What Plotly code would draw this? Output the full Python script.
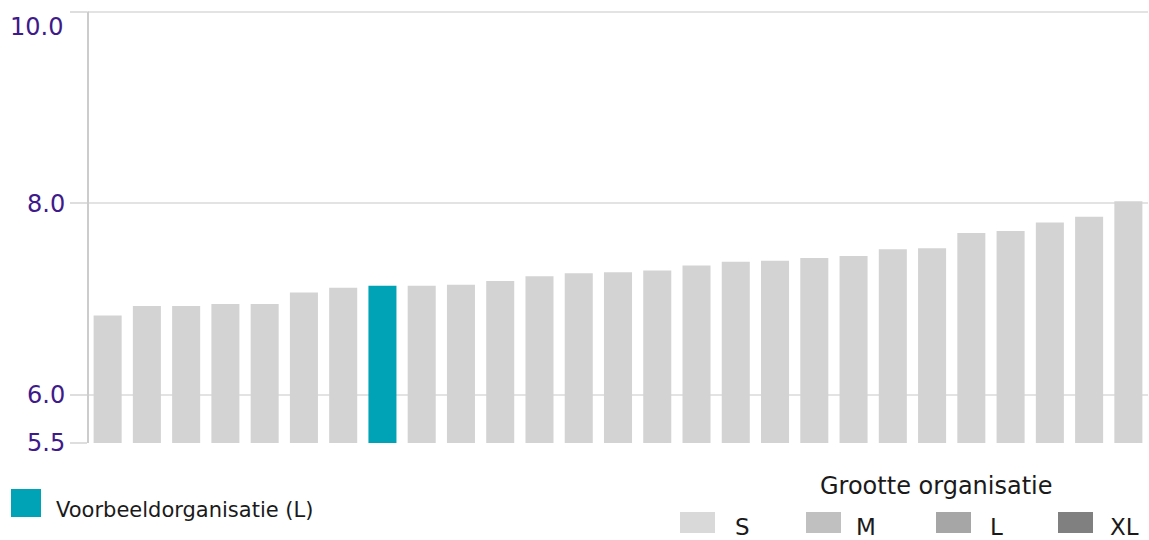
import plotly.graph_objects as go

# Scores per organisation, sorted ascending
organisaties = [str(i) for i in range(1, 28)]
scores = [6.83, 6.93, 6.93, 6.95, 6.95, 7.07, 7.12, 7.14, 7.14, 7.15,
          7.19, 7.24, 7.27, 7.28, 7.30, 7.35, 7.39, 7.40, 7.43, 7.45,
          7.52, 7.53, 7.69, 7.71, 7.80, 7.86, 8.02]
voorbeeld_index = 7
y_ticks = [5.5, 6.0, 8.0, 10.0]
y_tick_labels = ["5.5", "6.0", "8.0", "10.0"]
y_min, y_max = 5.5, 10.0

legend_title = "Grootte organisatie"
grootte_labels = ["S", "M", "L", "XL"]
grootte_colors = ["#d9d9d9", "#c0c0c0", "#a6a6a6", "#808080"]
voorbeeld_label = "Voorbeeldorganisatie (L)"

BAR_GREY = "#d3d3d3"
TEAL = "#00a2b5"
TICK_PURPLE = "#3f1a8a"
FONT = "DejaVu Sans"

colors = [TEAL if i == voorbeeld_index else BAR_GREY for i in range(len(scores))]

# bars start at the axis floor, so heights are relative to it
fig = go.Figure(go.Bar(
    x=list(range(len(organisaties))),
    y=[s - y_min for s in scores],
    base=y_min,
    marker=dict(color=colors, line=dict(width=0)),
    hovertext=organisaties,
))

# plot area: top edge a little above the 10.0 line, bottom at 5.5
TOP, BOTTOM = 4, 443
PH = BOTTOM - TOP
px_per_unit = (BOTTOM - 11.5) / (y_max - y_min)
y_top = y_min + PH / px_per_unit

fig.update_layout(
    width=1149, height=540,
    margin=dict(l=88, r=1, t=TOP, b=540 - BOTTOM),
    paper_bgcolor="white", plot_bgcolor="white",
    bargap=0.286,
    showlegend=False,
    font=dict(family=FONT, color="#222222"),
)
fig.update_xaxes(
    range=[-0.5, len(scores) - 0.5],
    showticklabels=False, showgrid=False, zeroline=False, showline=False,
)
# the top label sits just below its grid line so it stays inside the page
axis_text = [t if v != y_max else "" for v, t in zip(y_ticks, y_tick_labels)]
fig.update_yaxes(
    range=[y_min, y_top],
    tickvals=y_ticks, ticktext=axis_text,
    tickfont=dict(family=FONT, size=24, color=TICK_PURPLE),
    ticks="outside", ticklen=17, tickwidth=2, tickcolor="#dedede",
    showgrid=True, gridcolor="#e3e3e3", gridwidth=2,
    zeroline=False,
    showline=False,
)

shapes = []
annotations = []
PW = 1060

# Vertical axis line from 5.5 up to 10.0
shapes.append(dict(
    type="line", xref="paper", yref="y",
    x0=0, x1=0, y0=y_min, y1=y_max,
    line=dict(color="#cccccc", width=2),
))

def py(pix):
    """Paper y-coordinate for a pixel row."""
    return (BOTTOM - pix) / PH

top_label = y_tick_labels[y_ticks.index(y_max)]
annotations.append(dict(
    xref="paper", yref="paper", x=-23 / PW, y=py(27),
    text=top_label, showarrow=False, xanchor="right", yanchor="middle",
    font=dict(family=FONT, size=24, color=TICK_PURPLE),
))

# Highlighted organisation key
shapes.append(dict(
    type="rect", xref="paper", yref="paper",
    x0=-77 / PW, x1=-47 / PW, y0=py(517), y1=py(489),
    fillcolor=TEAL, line=dict(width=0),
))
annotations.append(dict(
    xref="paper", yref="paper", x=-34 / PW, y=py(510),
    text=voorbeeld_label, showarrow=False, xanchor="left", yanchor="middle",
    font=dict(family=FONT, size=21, color="#1a1a1a"),
))

# Size-category key
annotations.append(dict(
    xref="paper", yref="paper", x=(936 - 88) / PW, y=py(486),
    text=legend_title, showarrow=False, xanchor="center", yanchor="middle",
    font=dict(family=FONT, size=24, color="#1a1a1a"),
))
swatch_x = [680, 806, 936, 1058]
label_x = [733, 854, 988, 1108]
for sx, lx, lab, col in zip(swatch_x, label_x, grootte_labels, grootte_colors):
    shapes.append(dict(
        type="rect", xref="paper", yref="paper",
        x0=(sx - 88) / PW, x1=(sx + 35 - 88) / PW, y0=py(533), y1=py(512),
        fillcolor=col, line=dict(width=0),
    ))
    annotations.append(dict(
        xref="paper", yref="paper", x=(lx - 88) / PW, y=py(527),
        text=lab, showarrow=False, xanchor="left", yanchor="middle",
        font=dict(family=FONT, size=23, color="#1a1a1a"),
    ))

fig.update_layout(shapes=shapes, annotations=annotations)
fig.write_html("out.html")
